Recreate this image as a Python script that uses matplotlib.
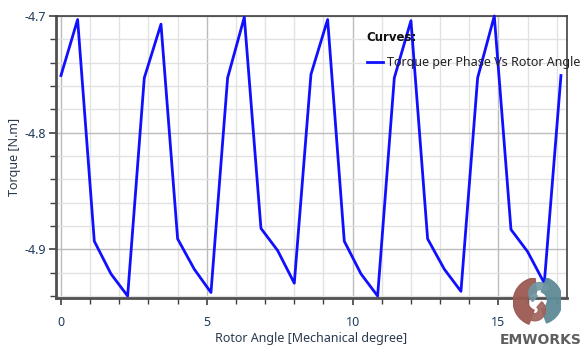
import numpy as np
import matplotlib.pyplot as plt
from matplotlib.patches import Wedge
from matplotlib.ticker import MultipleLocator

# Rotor angle [mechanical degree]
angle = [0.0, 0.571, 1.143, 1.714, 2.286, 2.857, 3.429, 4.0, 4.571, 5.143,
         5.714, 6.286, 6.857, 7.429, 8.0, 8.571, 9.143, 9.714, 10.286, 10.857,
         11.429, 12.0, 12.571, 13.143, 13.714, 14.286, 14.857, 15.429, 16.0,
         16.571, 17.143]
# Torque per phase [N.m]
torque = [-4.751, -4.703, -4.893, -4.921, -4.940, -4.753, -4.707, -4.891,
          -4.917, -4.937, -4.753, -4.701, -4.882, -4.901, -4.929, -4.750,
          -4.703, -4.893, -4.921, -4.940, -4.753, -4.704, -4.891, -4.917,
          -4.936, -4.753, -4.700, -4.883, -4.902, -4.929, -4.751]

plt.rcParams['font.family'] = ['Noto Sans', 'DejaVu Sans']
tick_col = '#1f3a5c'

fig = plt.figure(figsize=(5.84, 3.52), dpi=100)
ax = fig.add_axes([0.0959, 0.1534, 0.875, 0.8011])

ax.plot(angle, torque, color='#1010ff', lw=2.0,
        label='Torque per Phase Vs Rotor Angle', clip_on=False, zorder=3)

ax.set_xlim(-0.17, 17.35)
ax.set_ylim(-4.9417, -4.7)
ax.xaxis.set_major_locator(MultipleLocator(5))
ax.xaxis.set_minor_locator(MultipleLocator(1))
ax.yaxis.set_minor_locator(MultipleLocator(0.02))
ax.set_yticks([-4.9, -4.8, -4.7])
ax.set_yticklabels(['-4.9', '-4.8', '-4.7'])

ax.grid(which='major', color='#bcbcbc', lw=1.0)
ax.grid(which='minor', color='#e2e2e2', lw=1.0)
ax.set_axisbelow(True)

ax.tick_params(which='major', length=5, width=1.2, color='#404040',
               labelsize=9, labelcolor=tick_col, pad=2)
ax.tick_params(which='minor', length=4, width=1.0, color='#404040')
ax.tick_params(axis='x', pad=8)

for side in ['left', 'bottom']:
    ax.spines[side].set_linewidth(2.0)
    ax.spines[side].set_color('#505050')
for side in ['top', 'right']:
    ax.spines[side].set_linewidth(1.2)
    ax.spines[side].set_color('#404040')

ax.set_xlabel('Rotor Angle [Mechanical degree]', fontsize=9, color='#2a3a4e', labelpad=2)
ax.set_ylabel('Torque [N.m]', fontsize=9, color='#2a3a4e', labelpad=3)

# legend: bold title, then one entry
ax.text(0.607, 0.925, 'Curves:', transform=ax.transAxes, fontsize=8.5,
        fontweight='bold', family='DejaVu Sans', color='#111111',
        va='center', ha='left')
ax.legend(loc='center left', bbox_to_anchor=(0.598, 0.835), frameon=False,
          fontsize=9, handlelength=1.3, handletextpad=0.3, borderaxespad=0,
          labelcolor='#222222')

# EMWORKS logo
lax = fig.add_axes([0.877, 0.075, 0.0856, 0.136])
lax.set_xlim(-1, 1)
lax.set_ylim(-1, 1)
lax.set_aspect('equal')
lax.axis('off')
lax.add_patch(Wedge((0, 0), 1.0, 95, 250, width=0.62, color='#9b5a52', alpha=0.95))
lax.add_patch(Wedge((0.05, 0.05), 1.0, 290, 70, width=0.62, color='#5e8b97', alpha=0.95))
lax.add_patch(Wedge((0.1, 0.35), 0.45, 30, 230, width=0.3, color='#6f98a3', alpha=0.9))
lax.add_patch(Wedge((-0.1, -0.35), 0.45, 210, 50, width=0.3, color='#a0625a', alpha=0.9))
fig.text(0.925, 0.014, 'EMWORKS', fontsize=10, fontweight='bold',
         family='DejaVu Sans', color='#5e5e5e', ha='center', va='bottom')

fig.savefig('out.png', dpi=100)
